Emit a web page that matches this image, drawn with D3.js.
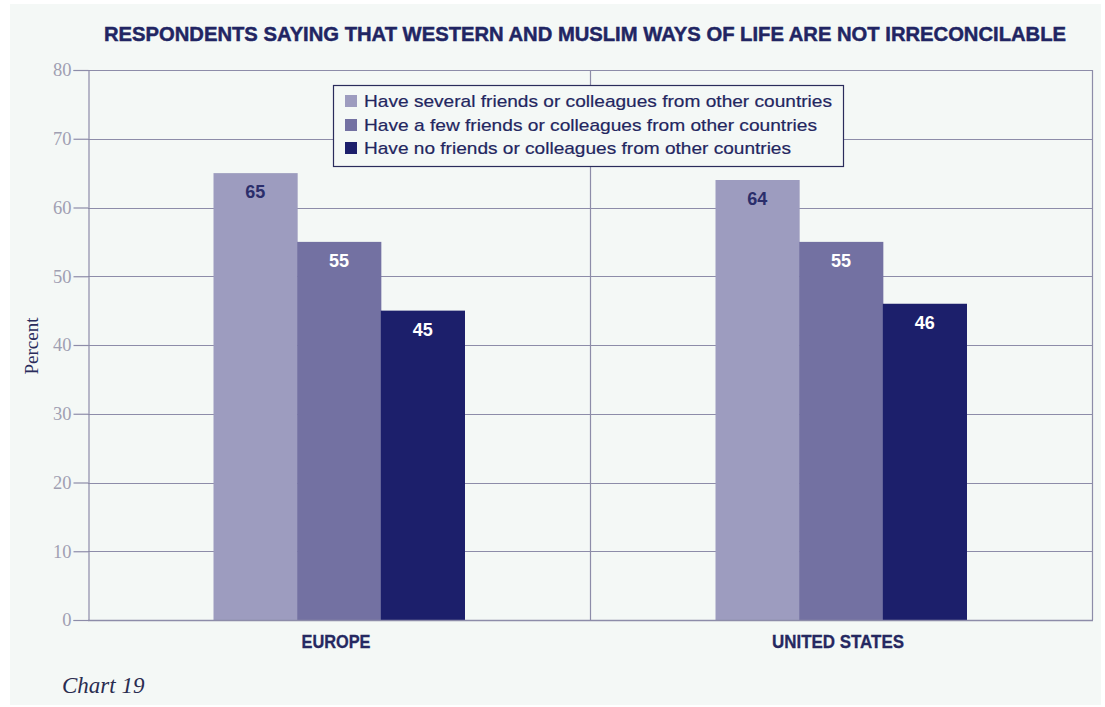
<!DOCTYPE html>
<html>
<head>
<meta charset="utf-8">
<script src="https://cdn.jsdelivr.net/npm/d3@7"></script>
<style>
  html, body { margin: 0; padding: 0; background: #ffffff; }
  svg { display: block; }
</style>
</head>
<body>
<svg id="chart" width="1105" height="707"></svg>
<script>
// Chart data
const categories = ["EUROPE", "UNITED STATES"];
const seriesNames = [
  "Have several friends or colleagues from other countries",
  "Have a few friends or colleagues from other countries",
  "Have no friends or colleagues from other countries"
];
const severalFriends = [65, 64];
const fewFriends = [55, 55];
const noFriends = [45, 46];
const yTicks = [0, 10, 20, 30, 40, 50, 60, 70, 80];

const seriesValues = [severalFriends, fewFriends, noFriends];
const seriesColors = ["#9d9cbf", "#7371a2", "#1c1f6b"];
const labelColors = ["#2b2e6b", "#ffffff", "#ffffff"];

const svg = d3.select("#chart");

// Panel background
svg.append("rect")
  .attr("x", 10).attr("y", 4)
  .attr("width", 1091).attr("height", 701)
  .attr("fill", "#f4f8f6");

const plot = { left: 88, right: 1092, top: 70, bottom: 620 };

const y = d3.scaleLinear().domain([0, 80]).range([plot.bottom, plot.top]);
const x0 = d3.scaleBand().domain(categories)
  .range([plot.left, plot.right])
  .paddingInner(0.5).paddingOuter(0.25);
const x1 = d3.scaleBand().domain(d3.range(seriesNames.length))
  .range([0, x0.bandwidth()]).padding(0);

const gridColor = "#8d8ca9";

// Horizontal gridlines
svg.append("g")
  .selectAll("line")
  .data(yTicks)
  .join("line")
  .attr("x1", plot.left).attr("x2", plot.right)
  .attr("y1", d => Math.round(y(d)) + 0.5).attr("y2", d => Math.round(y(d)) + 0.5)
  .attr("stroke", gridColor).attr("stroke-width", 1.2);

// Frame: right edge and category divider
const midX = Math.round((plot.left + plot.right) / 2) + 0.5;
svg.append("line")
  .attr("x1", midX).attr("x2", midX)
  .attr("y1", plot.top).attr("y2", plot.bottom)
  .attr("stroke", gridColor).attr("stroke-width", 1.2);
svg.append("line")
  .attr("x1", plot.right + 0.5).attr("x2", plot.right + 0.5)
  .attr("y1", plot.top).attr("y2", plot.bottom)
  .attr("stroke", gridColor).attr("stroke-width", 1.2);

// Left axis with serif tick labels
const yAxis = d3.axisLeft(y).tickValues(yTicks).tickSize(15).tickPadding(2);
const yAxisG = svg.append("g")
  .attr("transform", `translate(${plot.left + 0.5},0)`)
  .call(yAxis);
yAxisG.select(".domain").attr("stroke", gridColor).attr("stroke-width", 1.2);
yAxisG.selectAll(".tick line").attr("stroke", gridColor).attr("stroke-width", 1.2);
yAxisG.selectAll(".tick text")
  .attr("fill", "#a09fb2")
  .style("font-family", "'Liberation Serif', 'DejaVu Serif', serif")
  .style("font-size", "18.5px");

// Bars
const groups = svg.append("g")
  .selectAll("g")
  .data(categories)
  .join("g")
  .attr("transform", d => `translate(${x0(d)},0)`);

groups.selectAll("rect")
  .data((d, i) => seriesValues.map((vals, s) => ({ s, v: vals[i] })))
  .join("rect")
  .attr("x", d => x1(d.s))
  .attr("y", d => y(d.v))
  .attr("width", x1.bandwidth() + 0.5)
  .attr("height", d => y(0) - y(d.v))
  .attr("fill", d => seriesColors[d.s]);

groups.selectAll("text")
  .data((d, i) => seriesValues.map((vals, s) => ({ s, v: vals[i] })))
  .join("text")
  .attr("x", d => x1(d.s) + x1.bandwidth() / 2)
  .attr("y", d => y(d.v) + 25)
  .attr("text-anchor", "middle")
  .attr("fill", d => labelColors[d.s])
  .style("font-family", "'Liberation Sans', Arial, sans-serif")
  .style("font-weight", "bold")
  .style("font-size", "18px")
  .text(d => d.v);

// Bottom axis line
svg.append("line")
  .attr("x1", plot.left).attr("x2", plot.right + 1)
  .attr("y1", plot.bottom + 0.5).attr("y2", plot.bottom + 0.5)
  .attr("stroke", gridColor).attr("stroke-width", 1.4);

// Category labels (condensed to fit a narrow face)
const categoryLabelWidths = [69, 132];
svg.append("g")
  .selectAll("text")
  .data(categories)
  .join("text")
  .attr("x", (d, i) => x0(d) + x0.bandwidth() / 2 - 3 - categoryLabelWidths[i] / 2)
  .attr("y", 648)
  .attr("textLength", (d, i) => categoryLabelWidths[i])
  .attr("lengthAdjust", "spacingAndGlyphs")
  .attr("fill", "#252861")
  .attr("stroke", "#252861").attr("stroke-width", 0.3)
  .style("font-family", "'Liberation Sans', Arial, sans-serif")
  .style("font-weight", "bold")
  .style("font-size", "18.5px")
  .text(d => d);

// Title
svg.append("text")
  .attr("x", 104).attr("y", 41)
  .attr("textLength", 962)
  .attr("lengthAdjust", "spacingAndGlyphs")
  .attr("fill", "#212563")
  .attr("stroke", "#212563").attr("stroke-width", 0.45)
  .style("font-family", "'Liberation Sans', Arial, sans-serif")
  .style("font-weight", "bold")
  .style("font-size", "19.5px")
  .text("RESPONDENTS SAYING THAT WESTERN AND MUSLIM WAYS OF LIFE ARE NOT IRRECONCILABLE");

// Y axis title
svg.append("text")
  .attr("transform", "translate(38,346) rotate(-90)")
  .attr("text-anchor", "middle")
  .attr("fill", "#2a2c5c")
  .style("font-family", "'Liberation Serif', 'DejaVu Serif', serif")
  .style("font-size", "19px")
  .text("Percent");

// Legend
const legend = svg.append("g");
legend.append("rect")
  .attr("x", 333.5).attr("y", 85.5)
  .attr("width", 510).attr("height", 81)
  .attr("fill", "#f4f8f6")
  .attr("stroke", "#2a2c5c").attr("stroke-width", 1.2);

const legendRowY = [101, 125, 148];
const legendWidths = [468, 453, 427];
const rows = legend.selectAll("g.row")
  .data(seriesNames)
  .join("g")
  .attr("class", "row")
  .attr("transform", (d, i) => `translate(345,${legendRowY[i]})`);
rows.append("rect")
  .attr("x", 0).attr("y", -6)
  .attr("width", 12).attr("height", 12)
  .attr("fill", (d, i) => seriesColors[i]);
rows.append("text")
  .attr("x", 19).attr("y", 6)
  .attr("textLength", (d, i) => legendWidths[i])
  .attr("lengthAdjust", "spacingAndGlyphs")
  .attr("fill", "#23265f")
  .attr("stroke", "#23265f").attr("stroke-width", 0.2)
  .style("font-family", "'Liberation Sans', Arial, sans-serif")
  .style("font-size", "17px")
  .text(d => d);

// Chart number caption
svg.append("text")
  .attr("x", 62).attr("y", 693)
  .attr("fill", "#2a2c50")
  .style("font-family", "'Liberation Serif', 'DejaVu Serif', serif")
  .style("font-style", "italic")
  .style("font-size", "23px")
  .text("Chart 19");
</script>
</body>
</html>
